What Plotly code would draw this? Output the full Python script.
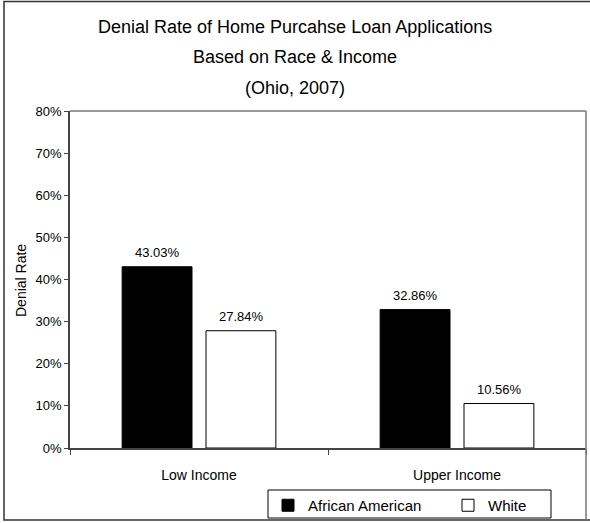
import plotly.graph_objects as go

categories = ["Low Income", "Upper Income"]
african_american = [0.4303, 0.3286]
white = [0.2784, 0.1056]
series_names = ["African American", "White"]
title_lines = ["Denial Rate of Home Purcahse Loan Applications",
               "Based on Race & Income", "(Ohio, 2007)"]
y_title = "Denial Rate"

W, H = 590, 523
L, R, T, B = 70, 4, 111, 75
PW, PH = W - L - R, H - T - B


def px(x):
    return (x - L) / PW


def py(y):
    return (H - B - y) / PH


FONT = "Liberation Sans, Arial, sans-serif"

fig = go.Figure()
fig.add_trace(go.Bar(
    x=categories, y=african_american, name=series_names[0],
    marker=dict(color="black", line=dict(color="black", width=1)),
))
fig.add_trace(go.Bar(
    x=categories, y=white, name=series_names[1],
    marker=dict(color="white", line=dict(color="black", width=1)),
))

annotations = []
for vals, xs in ((african_american, -42), (white, 42)):
    for c, v in zip(categories, vals):
        annotations.append(dict(
            text=f"{v * 100:.2f}%", x=c, y=v, xref="x", yref="y",
            xshift=xs, yshift=14, xanchor="center", yanchor="middle",
            showarrow=False, font=dict(size=13, color="black", family=FONT)))

for txt, yy in zip(title_lines, [27, 57, 88]):
    annotations.append(dict(
        text=txt, x=px(295), y=py(yy), xref="paper", yref="paper",
        xanchor="center", yanchor="middle", showarrow=False,
        font=dict(size=18, color="black", family=FONT)))
annotations.append(dict(
    text=y_title, x=px(21), y=py(281), xref="paper", yref="paper",
    xanchor="center", yanchor="middle", showarrow=False, textangle=-90,
    font=dict(size=14, color="black", family=FONT)))

shapes = [
    # outer chart frame (right side cropped off)
    dict(type="rect", xref="paper", yref="paper", x0=px(4), x1=px(600), y0=py(1.5), y1=py(520),
         line=dict(color="#333333", width=1.5), layer="below"),
    # plot-area border (top and right)
    dict(type="line", xref="paper", yref="paper", x0=0, x1=1, y0=1, y1=1, line=dict(color="#777777", width=1.5)),
    dict(type="line", xref="paper", yref="paper", x0=1, x1=1, y0=1, y1=py(520), line=dict(color="#777777", width=1.5)),
    # legend frame
    dict(type="rect", xref="paper", yref="paper", x0=px(268), x1=px(551), y0=py(490), y1=py(518), line=dict(color="black", width=1), layer="below"),
]

fig.update_layout(
    width=W, height=H,
    margin=dict(l=L, r=R, t=T, b=B, pad=0, autoexpand=False),
    paper_bgcolor="white", plot_bgcolor="white",
    font=dict(family=FONT, size=13, color="black"),
    barmode="group", bargap=0.35, bargroupgap=0.167,
    showlegend=True,
    legend=dict(
        orientation="h", xref="container", yref="container",
        x=268 / W, y=1 - 489 / H, xanchor="left", yanchor="top",
        borderwidth=0, bgcolor="rgba(0,0,0,0)",
        font=dict(size=15, family=FONT), entrywidth=135, entrywidthmode="pixels",
        tracegroupgap=0, itemwidth=30,
    ),
    annotations=annotations,
    shapes=shapes,
)
fig.update_xaxes(
    showline=True, linecolor="#444444", linewidth=1.5,
    ticks="outside", ticklen=5, tickcolor="#444444", tickson="boundaries",
    showgrid=False, tickfont=dict(size=14), ticklabelstandoff=13,
)
fig.update_yaxes(
    range=[0, 0.8], dtick=0.1, tickformat=".0%",
    showline=True, linecolor="#444444", linewidth=1.5,
    ticks="outside", ticklen=4, tickcolor="#444444",
    showgrid=False, zeroline=False, tickfont=dict(size=13),
)

fig.write_html("out.html", config={"displayModeBar": False},
               post_script="document.body.style.margin='0';document.body.style.overflow='hidden';")
